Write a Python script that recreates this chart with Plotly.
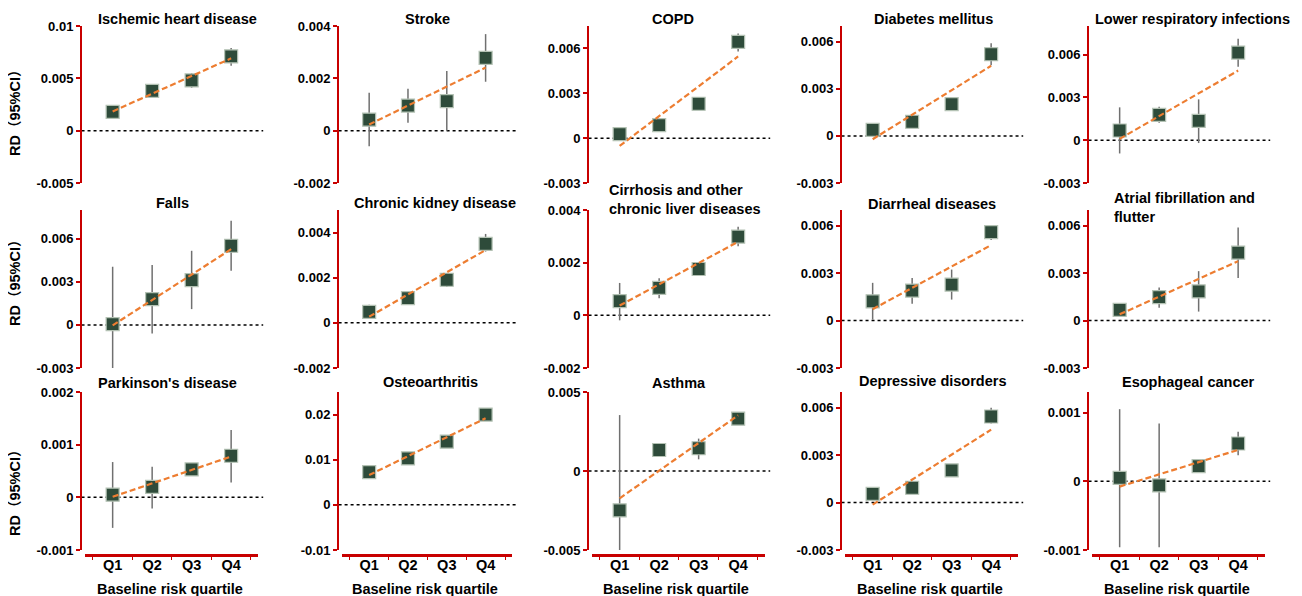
import numpy as np
import plotly.graph_objects as go

# ---------------- data ----------------
quartiles = ["Q1", "Q2", "Q3", "Q4"]
quartile_pos = [1, 2, 3, 4]

diseases = [
    "Ischemic heart disease", "Stroke", "COPD", "Diabetes mellitus", "Lower respiratory infections",
    "Falls", "Chronic kidney disease", "Cirrhosis and other<br>chronic liver diseases", "Diarrheal diseases",
    "Atrial fibrillation and<br>flutter",
    "Parkinson's disease", "Osteoarthritis", "Asthma", "Depressive disorders", "Esophageal cancer",
]

rd = [
    [0.0018, 0.0038, 0.0048, 0.0071],
    [0.00042, 0.00096, 0.00113, 0.00278],
    [0.00027, 0.00087, 0.0023, 0.00644],
    [0.00038, 0.0009, 0.00203, 0.0052],
    [0.00068, 0.00177, 0.00135, 0.00614],
    [0.00005, 0.0018, 0.00312, 0.00551],
    [0.00049, 0.0011, 0.00191, 0.0035],
    [0.00054, 0.00104, 0.00176, 0.00299],
    [0.00122, 0.0019, 0.00228, 0.0056],
    [0.00068, 0.00149, 0.00185, 0.0043],
    [0.00005, 0.0002, 0.00053, 0.00079],
    [0.00726, 0.0103, 0.014, 0.02],
    [-0.00249, 0.00133, 0.00144, 0.00331],
    [0.00055, 0.00094, 0.00204, 0.00545],
    [0.00005, -0.00006, 0.00022, 0.00055],
]

ci_lower = [
    [0.0013, 0.0033, 0.0041, 0.0062],
    [-0.0006, 0.0003, 0.0, 0.00187],
    [0.0, 0.0006, 0.002, 0.0058],
    [0.0001, 0.0006, 0.0017, 0.0045],
    [-0.00093, 0.00123, -0.0002, 0.00514],
    [-0.003, -0.0006, 0.0011, 0.00377],
    [0.0002, 0.0008, 0.0016, 0.00316],
    [-0.00019, 0.00065, 0.0015, 0.00262],
    [0.00006, 0.00106, 0.00133, 0.0051],
    [0.0004, 0.00081, 0.00057, 0.0027],
    [-0.00058, -0.00021, 0.00045, 0.00028],
    [0.0065, 0.0095, 0.0132, 0.0192],
    [-0.00506, 0.0010, 0.00074, 0.003],
    [0.0003, 0.0006, 0.0017, 0.005],
    [-0.00096, -0.00096, 0.00015, 0.00038],
]

ci_upper = [
    [0.0023, 0.0043, 0.0055, 0.0079],
    [0.00145, 0.0016, 0.00228, 0.00369],
    [0.0005, 0.0011, 0.0026, 0.0070],
    [0.0007, 0.0012, 0.0023, 0.0059],
    [0.0023, 0.00235, 0.00286, 0.0071],
    [0.00405, 0.00417, 0.00516, 0.00726],
    [0.0008, 0.0014, 0.0022, 0.00394],
    [0.00123, 0.00141, 0.002, 0.00336],
    [0.00239, 0.0027, 0.00323, 0.006],
    [0.001, 0.00209, 0.00313, 0.00589],
    [0.00067, 0.00058, 0.0006, 0.00128],
    [0.008, 0.011, 0.0148, 0.0208],
    [0.00354, 0.0017, 0.00205, 0.0036],
    [0.0008, 0.0012, 0.0023, 0.006],
    [0.00105, 0.00084, 0.0003, 0.00072],
]

y_ranges = [
    [-0.005, 0.01], [-0.002, 0.004], [-0.003, 0.0075], [-0.003, 0.007], [-0.003, 0.008],
    [-0.003, 0.008], [-0.002, 0.005], [-0.002, 0.004], [-0.003, 0.007], [-0.003, 0.007],
    [-0.001, 0.002], [-0.01, 0.025], [-0.005, 0.005], [-0.003, 0.007], [-0.001, 0.0013],
]

y_ticks = [
    [-0.005, 0, 0.005, 0.01], [-0.002, 0, 0.002, 0.004], [-0.003, 0, 0.003, 0.006],
    [-0.003, 0, 0.003, 0.006], [-0.003, 0, 0.003, 0.006],
    [-0.003, 0, 0.003, 0.006], [-0.002, 0, 0.002, 0.004], [-0.002, 0, 0.002, 0.004],
    [-0.003, 0, 0.003, 0.006], [-0.003, 0, 0.003, 0.006],
    [-0.001, 0, 0.001, 0.002], [-0.01, 0, 0.01, 0.02], [-0.005, 0, 0.005],
    [-0.003, 0, 0.003, 0.006], [-0.001, 0, 0.001],
]

y_title = "RD（95%CI）"
x_title = "Baseline risk quartile"

# ---------------- layout geometry (page pixels) ----------------
PAGE_OFF = 8                      # default body margin of the page
W, H = 1302 - PAGE_OFF, 596 - PAGE_OFF


def px_x(p):
    return (p - PAGE_OFF) / W


def px_y(p):
    return 1 - (p - PAGE_OFF) / H


col_px = [(85, 258), (342, 512), (592, 765), (845, 1018), (1092, 1265)]
row_px = [(26, 183), (210, 368), (392, 550)]
xaxis_line_py = 555

# title positions: (x px, y px, anchor)
title_pos = [
    (177, 19, "center"), (427, 19, "center"), (673, 19, "center"), (933, 19, "center"), (1192, 19, "center"),
    (173, 203, "center"), (435, 203, "center"), (607, 200, "left"), (932, 204, "center"), (1112, 207, "left"),
    (167, 383, "center"), (430, 382, "center"), (679, 383, "center"), (933, 381, "center"), (1188, 382, "center"),
]
ytitle_centers = [110, 280, 490]

RED = "#C80000"
FONT = "Liberation Sans, Arial, Noto Sans CJK SC, sans-serif"
MARKER = "#2E4B3A"
ORANGE = "#ED7D31"

fig = go.Figure()
layout = dict(
    width=W, height=H,
    margin=dict(l=0, r=0, t=0, b=0, pad=0),
    paper_bgcolor="white", plot_bgcolor="white",
    showlegend=False,
    font=dict(family=FONT, color="black"),
)
shapes = []
annotations = []

for i in range(15):
    r, c = divmod(i, 5)
    n = i + 1
    sfx = "" if n == 1 else str(n)
    xa, ya = "x" + sfx, "y" + sfx
    x0, x1 = col_px[c]
    y0, y1 = row_px[r]

    vals = np.array(rd[i])
    lo = np.array(ci_lower[i])
    hi = np.array(ci_upper[i])

    fig.add_trace(go.Scatter(
        x=quartile_pos, y=vals, mode="markers",
        marker=dict(symbol="square", size=13, color=MARKER, line=dict(color="#B4C2B4", width=1.2)),
        error_y=dict(type="data", symmetric=False, array=hi - vals, arrayminus=vals - lo,
                     color="#707070", thickness=1.5, width=0),
        xaxis=xa, yaxis=ya, hoverinfo="skip",
    ))
    slope, intercept = np.polyfit(quartile_pos, vals, 1)
    xs = [quartile_pos[0], quartile_pos[-1]]
    fig.add_trace(go.Scatter(
        x=xs, y=[intercept + slope * v for v in xs], mode="lines",
        line=dict(color=ORANGE, width=2.2, dash="6px,3px"),
        xaxis=xa, yaxis=ya, hoverinfo="skip",
    ))

    xdict = dict(domain=[px_x(x0), px_x(x1)], range=[0.3, 4.68], showgrid=False, zeroline=False,
                 fixedrange=True, automargin=False)
    if r == 2:
        xdict.update(anchor="free", position=px_y(xaxis_line_py), showline=True, linecolor=RED,
                     linewidth=3, tickmode="array", tickvals=quartile_pos, ticktext=quartiles,
                     ticks="", ticklabelstandoff=-4,
                     tickfont=dict(family=FONT, size=14.5, color="black", weight="bold"),
                     minor=dict(tickvals=[0.5, 1.5, 2.5, 3.5, 4.5], ticks="outside", ticklen=3,
                                tickcolor=RED, tickwidth=1))
    else:
        xdict.update(anchor=ya, visible=False)
    layout["xaxis" + sfx] = xdict

    layout["yaxis" + sfx] = dict(
        domain=[px_y(y1), px_y(y0)], range=y_ranges[i], anchor="free", position=px_x(x0 - 4),
        showline=True, linecolor=RED, linewidth=2, ticks="outside", ticklen=4, tickwidth=2,
        tickcolor=RED, tickmode="array", tickvals=y_ticks[i], ticktext=[f"{v:g}" for v in y_ticks[i]],
        tickfont=dict(family=FONT, size=13, color="black", weight="bold"),
        showgrid=False, zeroline=False, fixedrange=True, automargin=False,
    )

    shapes.append(dict(type="line", xref=xa + " domain", yref=ya, x0=-0.02, x1=1.03, y0=0, y1=0,
                       line=dict(color="black", width=1.5, dash="dot"), layer="below"))

    tx, ty, anc = title_pos[i]
    annotations.append(dict(text=diseases[i], xref="paper", yref="paper", x=px_x(tx), y=px_y(ty),
                            xanchor=anc, yanchor="middle", align="left", showarrow=False,
                            font=dict(family=FONT, size=14.5, color="black", weight="bold")))
    if r == 2:
        annotations.append(dict(text=x_title, xref="paper", yref="paper", x=px_x((x0 + x1) / 2 - 2),
                                y=px_y(589), xanchor="center", yanchor="middle", showarrow=False,
                                font=dict(family=FONT, size=14.5, color="black", weight="bold")))

for r in range(3):
    annotations.append(dict(text=y_title, xref="paper", yref="paper", x=px_x(15), y=px_y(ytitle_centers[r]),
                            xanchor="center", yanchor="middle", textangle=-90, showarrow=False,
                            font=dict(family=FONT, size=14.5, color="black", weight="bold")))

layout["shapes"] = shapes
layout["annotations"] = annotations
fig.update_layout(**layout)
fig.write_html("out.html")
